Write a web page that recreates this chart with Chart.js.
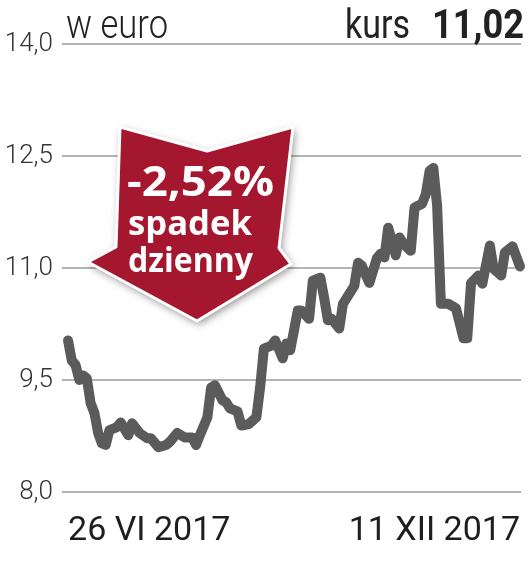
<!DOCTYPE html>
<html>
<head>
<meta charset="utf-8">
<script src="https://cdn.jsdelivr.net/npm/chart.js@4"></script>
<style>
  html, body { margin: 0; padding: 0; background: #ffffff; }
  #wrap { width: 531px; height: 564px; }
</style>
</head>
<body>
<div id="wrap"><canvas id="line"></canvas></div>
<script>
// trading day index (0 = 26 VI 2017, 120 = 11 XII 2017)
const days = [0, 1, 2, 3, 4, 5, 6, 7, 8, 9, 10, 11, 13, 14, 16, 17, 19, 21, 22, 24,
    26, 27, 29, 31, 33, 34, 35, 37, 38, 39, 41, 42, 43, 45, 46, 48, 50, 51, 52, 54,
    55, 57, 58, 59, 61, 62, 64, 65, 67, 68, 69, 70, 72, 73, 74, 76, 77, 78, 80, 82,
    83, 84, 85, 87, 88, 89, 91, 92, 94, 95, 96, 97, 98, 99, 101, 103, 105, 106, 107, 109,
    110, 112, 113, 115, 116, 118, 120];
// price in euro
const prices = [10.03, 9.76, 9.70, 9.50, 9.56, 9.52, 9.19, 9.06, 8.79, 8.65, 8.63, 8.83, 8.87, 8.93, 8.76, 8.92, 8.79, 8.72, 8.72, 8.60,
    8.63, 8.67, 8.79, 8.73, 8.73, 8.63, 8.76, 9.00, 9.40, 9.43, 9.23, 9.20, 9.12, 9.08, 8.89, 8.91, 9.00, 9.40, 9.92, 9.96,
    10.03, 9.79, 9.99, 9.90, 10.43, 10.43, 10.32, 10.83, 10.87, 10.60, 10.30, 10.32, 10.19, 10.52, 10.60, 10.76, 11.07, 11.03, 10.80, 11.13,
    11.19, 11.14, 11.54, 11.17, 11.41, 11.33, 11.23, 11.81, 11.86, 11.99, 12.30, 12.34, 11.83, 10.52, 10.52, 10.46, 10.06, 10.06, 10.80, 10.90,
    10.79, 11.30, 10.99, 10.90, 11.21, 11.29, 11.02];

const xLabels = {0: "26 VI 2017", 120: "11 XII 2017"};
const yTicks = [8, 9.5, 11, 12.5, 14];
const unitText = "w euro";
const kursText = "kurs";
const kursValue = "11,02";
const badgeLines = ["-2,52%", "spadek", "dzienny"];

function fitText(ctx, text, left, baseline, width, font, color)
{
    ctx.save();
    ctx.font = font;
    ctx.fillStyle = color;
    ctx.textAlign = 'left';
    ctx.textBaseline = 'alphabetic';
    let w = ctx.measureText(text).width;
    ctx.translate(left, baseline);
    ctx.scale(width / w, 1);
    ctx.fillText(text, 0, 0);
    ctx.restore();
}

const decorPlugin = {
    id: 'decor',
    afterDraw(chart)
    {
        const ctx = chart.ctx;

        // header
        fitText(ctx, unitText, 66, 38, 102, '300 40px Roboto', '#222222');
        fitText(ctx, kursText, 345, 38, 65, '400 40px Roboto', '#222222');
        fitText(ctx, kursValue, 432, 38, 92, '700 40px Roboto', '#222222');

        // red arrow badge
        const pts = [[120, 127], [207, 151], [293, 127], [279, 248], [291, 264],
                     [197, 321], [88, 262], [116, 247]];
        ctx.save();
        ctx.beginPath();
        ctx.moveTo(pts[0][0], pts[0][1]);
        for(let i=1; i<pts.length; i++)
        {
            ctx.lineTo(pts[i][0], pts[i][1]);
        }
        ctx.closePath();
        ctx.lineJoin = 'round';
        ctx.shadowColor = 'rgba(0, 0, 0, 0.45)';
        ctx.shadowBlur = 8;
        ctx.shadowOffsetX = 2;
        ctx.shadowOffsetY = 3;
        ctx.fillStyle = '#ffffff';
        ctx.fill();
        ctx.shadowColor = 'rgba(0, 0, 0, 0)';
        ctx.fillStyle = '#a5162f';
        ctx.fill();
        ctx.strokeStyle = '#ffffff';
        ctx.lineWidth = 3;
        ctx.stroke();
        ctx.restore();

        fitText(ctx, badgeLines[0], 127, 196, 147, '700 42px "Open Sans"', '#ffffff');
        fitText(ctx, badgeLines[1], 128, 235, 124, '700 34px "Open Sans"', '#ffffff');
        fitText(ctx, badgeLines[2], 128, 272, 125, '700 34px "Open Sans"', '#ffffff');
    }
};

let lineChart;
function drawLine()
{
    let ctx = document.getElementById('line').getContext('2d');

    let points = [];
    for(let i=0; i<days.length; i++)
    {
        points.push({x: days[i], y: prices[i]});
    }

    const options = {
        responsive: true,
        maintainAspectRatio: false,
        animation: false,
        layout: {
            padding: {left: 0, right: 3, top: 44, bottom: 0}
        },
        plugins: {
            legend: {display: false},
            tooltip: {enabled: false}
        },
        scales: {
            x: {
                type: 'linear',
                min: -1.6,
                max: 120.3,
                grid: {display: false},
                border: {display: false},
                afterBuildTicks: function (scale)
                {
                    scale.ticks = [{value: 0}, {value: 120}];
                },
                afterFit: function (scale)
                {
                    scale.height = 72;
                },
                ticks: {
                    align: 'inner',
                    maxRotation: 0,
                    autoSkip: false,
                    padding: 11,
                    color: '#1e1e1e',
                    font: {family: 'Roboto', size: 34, weight: '400'},
                    callback: function (value)
                    {
                        return xLabels[value] || '';
                    }
                }
            },
            y: {
                min: 8,
                max: 14,
                border: {display: false},
                grid: {
                    color: '#b5b5b5',
                    lineWidth: 2,
                    drawTicks: false
                },
                afterBuildTicks: function (scale)
                {
                    scale.ticks = yTicks.map(v => ({value: v}));
                },
                afterFit: function (scale)
                {
                    scale.width = 62;
                },
                ticks: {
                    padding: 9,
                    color: '#333333',
                    font: {family: 'Roboto', size: 26, weight: '300'},
                    callback: function (value)
                    {
                        return value.toFixed(1).replace('.', ',');
                    }
                }
            }
        }
    };

    const config = {
        type: 'line',
        data: {
            datasets: [
                {
                    data: points,
                    borderColor: '#5b5b5b',
                    borderWidth: 10,
                    borderJoinStyle: 'round',
                    borderCapStyle: 'round',
                    pointRadius: 0,
                    tension: 0,
                    clip: false
                }
            ]
        },
        options: options,
        plugins: [decorPlugin]
    };

    lineChart = new Chart(ctx, config);
}
drawLine();
</script>
</body>
</html>
